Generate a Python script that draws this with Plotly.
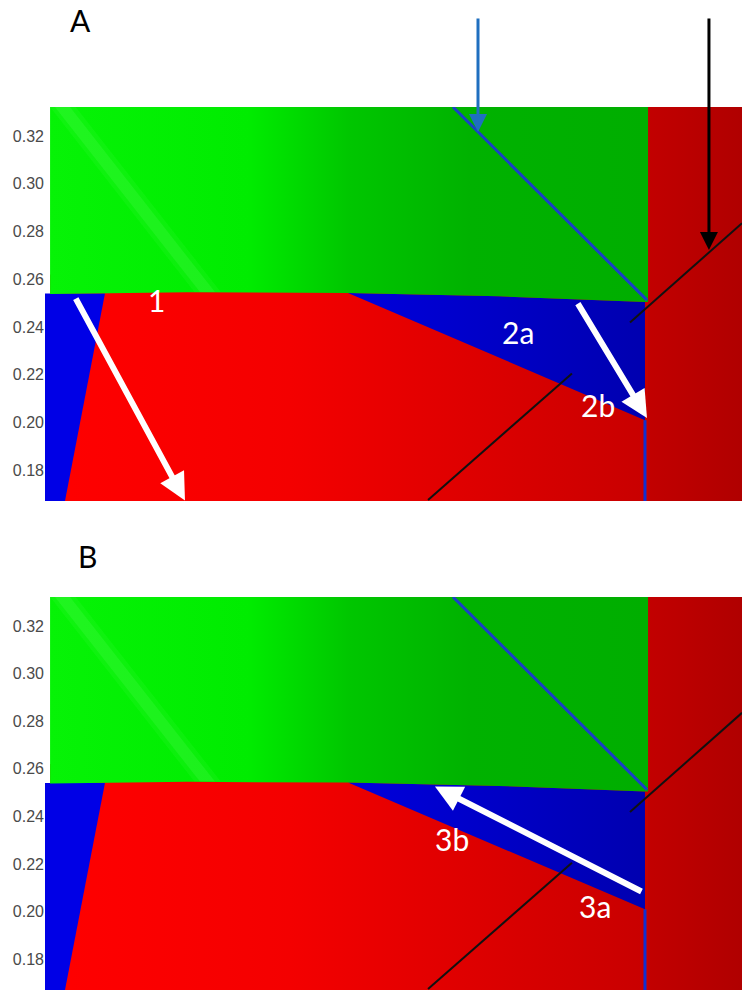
import plotly.graph_objects as go

# ---- axes -------------------------------------------------------------
Y_TICKS = [0.18, 0.20, 0.22, 0.24, 0.26, 0.28, 0.30, 0.32]
X_RANGE = [-0.0043, 1.0]
Y_RANGE = [0.1670, 0.3322]

# ---- phase boundaries (normalised composition x, property y) ----------
# lower edge of the green phase, left to right
green_edge_x = [0.003, 0.20, 0.4323, 0.65, 0.8602]
green_edge_y = [0.2538, 0.2545, 0.2542, 0.2528, 0.2504]
green_left_x = 0.003
green_right_x = 0.8674

# vertical boundary to the dark red phase
right_phase_x = 0.8602
dark_red_start_x = 0.8646

# left blue wedge (top edge on the green boundary, inclined right edge)
blue_left_x = [-0.0043, 0.0821, 0.0245, -0.0043]
blue_left_y = [0.2540, 0.2540, 0.1670, 0.1670]

# right blue wedge (2a region)
blue_right_x = [0.4323, 0.65, 0.8602, 0.8602]
blue_right_y = [0.2542, 0.2528, 0.2504, 0.2009]

# blue tie line crossing the green field
blue_line_x = [0.5836, 0.8631]
blue_line_y = [0.3322, 0.2512]

# black tie line (drawn in two visible pieces)
black_line1_x = [1.0, 0.8386]
black_line1_y = [0.2835, 0.2418]
black_line2_x = [0.7550, 0.5476]
black_line2_y = [0.2205, 0.1674]

# light streak across the green field
streak_x = [0.0101, 0.0317, 0.2406, 0.2190]
streak_y = [0.3322, 0.3322, 0.2546, 0.2546]
streak_wide_x = [0.0030, 0.0400, 0.2490, 0.2110]

# path arrows: (tail x, tail y, head x, head y)
arrows_A = [(0.0389, 0.2525, 0.1974, 0.1672),
            (0.7622, 0.2504, 0.8631, 0.2018)]
arrows_B = [(0.8573, 0.2081, 0.5576, 0.2525)]

# path labels: (text, x, y)
labels_A = [("1", 0.157, 0.2512), ("2a", 0.6772, 0.2378), ("2b", 0.7925, 0.2072)]
labels_B = [("3b", 0.5821, 0.2303), ("3a", 0.7882, 0.2022)]

# ---- colours ----------------------------------------------------------
GREEN_SCALE = [[0, "#06f306"], [0.33, "#00ec00"], [0.5, "#00c600"],
               [0.7, "#00b200"], [1, "#00ae00"]]
RED_SCALE = [[0, "#ff0000"], [0.4, "#f40000"], [1, "#c80000"]]
DARK_RED_SCALE = [[0, "#c20000"], [1, "#b00000"]]
BLUE_LEFT = "#0000e6"
BLUE_RIGHT_SCALE = [[0, "#0000dc"], [1, "#0000b0"]]
TIE_BLUE = "#1a3fc8"

fig = go.Figure()


def region(xs, ys, xa, ya, color=None, scale=None):
    kw = dict(fillgradient=dict(type="horizontal", colorscale=scale)) if scale else dict(fillcolor=color)
    fig.add_trace(go.Scatter(x=xs, y=ys, fill="toself", mode="none", xaxis=xa, yaxis=ya,
                             hoverinfo="skip", showlegend=False, **kw))


def add_panel(xa, ya):
    ymin, ymax = Y_RANGE
    # red field (background of the lower part, tucked under its neighbours)
    region([green_left_x, green_right_x, green_right_x, green_left_x],
           [0.262, 0.262, ymin, ymin], xa, ya, scale=RED_SCALE)
    # blue fields
    region(blue_left_x, blue_left_y, xa, ya, color=BLUE_LEFT)
    region(blue_right_x, blue_right_y, xa, ya, scale=BLUE_RIGHT_SCALE)
    # green field
    gx = [green_left_x, green_right_x, green_right_x] + green_edge_x[::-1]
    gy = [ymax, ymax, green_edge_y[-1]] + green_edge_y[::-1]
    region(gx, gy, xa, ya, scale=GREEN_SCALE)
    region(streak_wide_x, streak_y, xa, ya, color="rgba(110,255,110,0.10)")
    region(streak_x, streak_y, xa, ya, color="rgba(120,255,120,0.16)")
    # dark red field on the right
    region([dark_red_start_x, X_RANGE[1], X_RANGE[1], dark_red_start_x],
           [ymax, ymax, ymin, ymin], xa, ya, scale=DARK_RED_SCALE)
    # thin blue boundary under the wedge
    fig.add_trace(go.Scatter(x=[right_phase_x, right_phase_x], y=[blue_right_y[-1], ymin],
                             mode="lines", line=dict(color="#1030d0", width=3),
                             xaxis=xa, yaxis=ya, hoverinfo="skip", showlegend=False))
    # tie lines
    fig.add_trace(go.Scatter(x=blue_line_x, y=blue_line_y, mode="lines",
                             line=dict(color=TIE_BLUE, width=3),
                             xaxis=xa, yaxis=ya, hoverinfo="skip", showlegend=False))
    for lx, ly in [(black_line1_x, black_line1_y), (black_line2_x, black_line2_y)]:
        fig.add_trace(go.Scatter(x=lx, y=ly, mode="lines",
                                 line=dict(color="#111111", width=2),
                                 xaxis=xa, yaxis=ya, hoverinfo="skip", showlegend=False))


add_panel("x", "y")
add_panel("x2", "y2")

annotations = []


def path_arrows(arrows, xr, yr):
    for tx, ty, hx, hy in arrows:
        annotations.append(dict(x=hx, y=hy, ax=tx, ay=ty, xref=xr, yref=yr,
                                axref=xr, ayref=yr, text="", showarrow=True,
                                arrowhead=2, arrowsize=0.9, arrowwidth=6,
                                arrowcolor="white"))


def path_labels(labels, xr, yr):
    for t, lx, ly in labels:
        annotations.append(dict(x=lx, y=ly, xref=xr, yref=yr, text=t, showarrow=False,
                                xanchor="center", yanchor="middle",
                                font=dict(family="Lato", size=30, color="white")))


path_arrows(arrows_A, "x", "y")
path_arrows(arrows_B, "x2", "y2")
path_labels(labels_A, "x", "y")
path_labels(labels_B, "x2", "y2")

# marker arrows pointing at the two tie lines (panel A)
annotations.append(dict(x=0.6196, y=0.3217, xref="x", yref="y", ax=0, ay=-115,
                        text="", showarrow=True, arrowhead=2, arrowsize=1.2,
                        arrowwidth=3, arrowcolor="#1f6fc0"))
annotations.append(dict(x=0.9524, y=0.2722, xref="x", yref="y", ax=0, ay=-233,
                        text="", showarrow=True, arrowhead=2, arrowsize=1.2,
                        arrowwidth=3, arrowcolor="black"))

# panel letters
for letter, px, py in [("A", 80, 20), ("B", 87, 556)]:
    annotations.append(dict(x=px / 743, y=1 - py / 992, xref="paper", yref="paper",
                            text=letter, showarrow=False, xanchor="center", yanchor="middle",
                            font=dict(family="Lato", size=30, color="black")))

xdom = [45 / 743, 742 / 743]
xaxis_style = dict(range=X_RANGE, domain=xdom, visible=False, showgrid=False, zeroline=False)
yaxis_style = dict(range=Y_RANGE, showgrid=False, zeroline=False, tickvals=Y_TICKS,
                   ticktext=[f"{v:.2f}" for v in Y_TICKS], ticks="", showline=False,
                   tickfont=dict(family="Liberation Sans", size=16, color="#4a4a4a"))

fig.update_layout(
    width=743, height=992, margin=dict(l=0, r=0, t=0, b=0),
    paper_bgcolor="white", plot_bgcolor="white", showlegend=False,
    xaxis=dict(**xaxis_style, anchor="y"),
    yaxis=dict(**yaxis_style, domain=[1 - 501 / 992, 1 - 107 / 992], anchor="x"),
    xaxis2=dict(**xaxis_style, anchor="y2"),
    yaxis2=dict(**yaxis_style, domain=[1 - 990 / 992, 1 - 597 / 992], anchor="x2"),
    annotations=annotations,
)

fig.write_html("out.html")
